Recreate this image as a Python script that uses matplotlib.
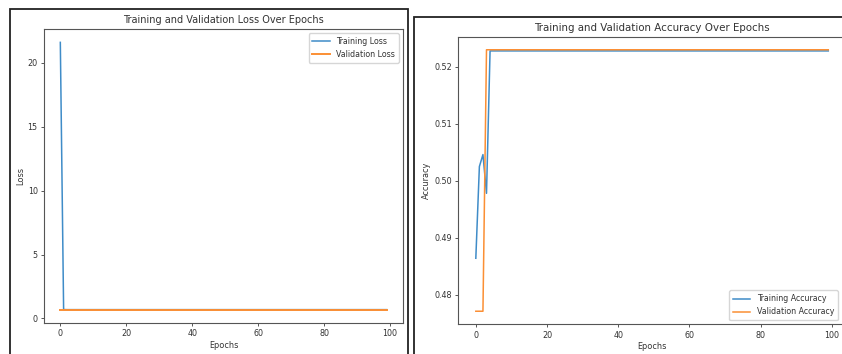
import matplotlib
matplotlib.use("Agg")
import matplotlib.pyplot as plt
from matplotlib.patches import Rectangle

# values (100 epochs)
epochs = list(range(100))
train_loss = [21.6, 0.70] + [0.693] * 98
val_loss = [0.693] * 100
train_acc = [0.4864, 0.5025, 0.5046, 0.4978] + [0.5228] * 96
val_acc = [0.4771, 0.4771, 0.4771] + [0.5230] * 97

W, H = 842, 354
fig = plt.figure(figsize=(W / 100, H / 100), dpi=100)
fig.patch.set_facecolor("white")

def fx(px):
    return px / W

def fy(py):
    return 1 - py / H

# screenshot frames
fig.add_artist(Rectangle((fx(10), fy(356)), fx(398), (356 - 9) / H, transform=fig.transFigure,
                         fill=False, edgecolor="#222222", linewidth=1.3))
fig.add_artist(Rectangle((fx(414), fy(356)), fx(440), (356 - 17) / H, transform=fig.transFigure,
                         fill=False, edgecolor="#222222", linewidth=1.3))

txt = "#333333"
blue = "#3f8cc8"
orange = "#fb8f34"
fs_tick = 5.8
fs_lab = 5.9

def style(ax):
    for s in ax.spines.values():
        s.set_color("#555555")
        s.set_linewidth(0.8)
    ax.tick_params(labelsize=fs_tick, colors="#555555", labelcolor=txt, length=2.5, width=0.7, pad=2)

# left: loss
ax1 = fig.add_axes([fx(44), fy(323), fx(403 - 44), (323 - 29) / H])
ax1.plot(epochs, train_loss, color=blue, lw=1.1, label="Training Loss")
ax1.plot(epochs, val_loss, color=orange, lw=1.4, label="Validation Loss")
ax1.set_title("Training and Validation Loss Over Epochs", fontsize=7.0, color=txt, pad=4)
ax1.set_xlabel("Epochs", fontsize=fs_lab, color=txt, labelpad=2)
ax1.set_ylabel("Loss", fontsize=fs_lab, color=txt, labelpad=2)
ax1.set_xticks([0, 20, 40, 60, 80, 100])
ax1.set_yticks([0, 5, 10, 15, 20])
style(ax1)
ax1.legend(loc="upper right", fontsize=5.7, handlelength=2.2, borderpad=0.5, labelcolor=txt)

# right: accuracy
ax2 = fig.add_axes([fx(458.2), fy(324.3), fx(387.7), (324.3 - 36.7) / H])
ax2.plot(epochs, train_acc, color=blue, lw=1.1, label="Training Accuracy")
ax2.plot(epochs, val_acc, color=orange, lw=1.1, label="Validation Accuracy")
ax2.set_title("Training and Validation Accuracy Over Epochs", fontsize=7.4, color=txt, pad=4)
ax2.set_xlabel("Epochs", fontsize=fs_lab, color=txt, labelpad=2)
ax2.set_ylabel("Accuracy", fontsize=fs_lab, color=txt, labelpad=2)
ax2.set_xticks([0, 20, 40, 60, 80, 100])
ax2.set_yticks([0.48, 0.49, 0.50, 0.51, 0.52])
ax2.set_yticklabels(["0.48", "0.49", "0.50", "0.51", "0.52"])
style(ax2)
ax2.legend(loc="lower right", fontsize=5.7, handlelength=2.2, borderpad=0.5, labelcolor=txt,
           bbox_to_anchor=(0.99, 0.0))

fig.savefig("out.png", dpi=100, facecolor="white")
